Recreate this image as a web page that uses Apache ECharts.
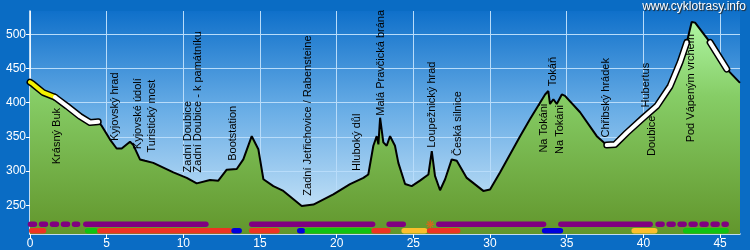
<!DOCTYPE html>
<html><head><meta charset="utf-8">
<script src="https://cdn.jsdelivr.net/npm/echarts@6/dist/echarts.min.js"></script>
<style>html,body{margin:0;padding:0;background:#0a6cc4;}#c{width:750px;height:250px;}</style>
</head><body><div id="c"></div>
<script>
// elevation profile (km, m)
const profileKm = [0, 0.2, 0.85, 1.63, 2.41, 3.26, 3.91, 4.45, 4.68, 5.22, 5.65, 5.98, 6.52, 6.74, 7.17, 7.5, 8.04, 9.35, 10.22, 10.87, 11.74, 12.28, 12.83, 13.48, 13.91, 14.46, 14.89, 15.22, 15.87, 16.52, 17.72, 18.48, 19.78, 20.87, 21.74, 22.06, 22.39, 22.61, 22.72, 22.83, 23.04, 23.26, 23.48, 23.8, 24.02, 24.46, 24.89, 25.43, 25.98, 26.2, 26.41, 26.74, 27.07, 27.5, 27.83, 28.48, 29.56, 30.0, 30.65, 31.96, 32.61, 33.59, 33.8, 33.91, 34.13, 34.35, 34.68, 34.89, 35.87, 36.96, 37.61, 38.15, 38.92, 40.0, 40.87, 41.74, 42.39, 42.83, 43.15, 43.37, 44.35, 45.44, 46.3];
const profileElev = [430, 427, 415, 408, 395, 380, 371, 372, 366, 346, 333, 333, 343, 338, 317, 315, 312, 298, 290, 282, 287, 286, 302, 303, 317, 351, 332, 288, 278, 271, 249, 251, 266, 281, 290, 295, 337, 351, 339, 378, 342, 337, 351, 337, 312, 281, 278, 286, 295, 329, 293, 272, 288, 317, 315, 290, 271, 273, 298, 351, 376, 412, 417, 398, 405, 398, 412, 410, 386, 351, 338, 339, 356, 378, 395, 424, 459, 488, 518, 517, 488, 449, 429];

// highlighted stretches of the profile (km ranges)
const highlightYellow = [[0, 1.63]];
const highlightWhite = [[1.63, 4.45], [37.61, 42.83], [44.35, 45.44]];

// waypoints
const waypointNames = ['Krásný Buk', 'Kyjovský hrad', 'Kyjovské údolí', 'Turistický most', 'Zadní Doubice', 'Zadní Doubice - k památníku', 'Bootstation', 'Zadní Jetřichovice / Rabensteine', 'Hluboký důl', 'Malá Pravčická brána', 'Loupežnický hrad', 'Česká silnice', 'Na Tokáni', 'Tokáň', 'Na Tokáni', 'Chřibský hrádek', 'Hubertus', 'Doubice', 'Pod Vápeným vrchem'];
const waypointKm = [1.74, 5.54, 7.06, 7.94, 10.32, 10.98, 13.26, 18.15, 21.35, 22.87, 26.2, 27.93, 33.52, 34.13, 34.57, 37.57, 40.17, 40.55, 43.09];
const waypointLabelElev = [310, 344, 332, 327, 298, 298, 315, 264, 300, 381, 334, 322, 327, 424, 325, 349, 393, 322, 342];

// route type bars: [startKm, endKm, type]
const row1Segments = [[0.03, 3.1, 'trailDotted'], [3.64, 11.47, 'trail'], [14.46, 22.34, 'trail'], [23.42, 24.34, 'trail'], [26.66, 33.49, 'trail'], [34.62, 40.44, 'trail'], [40.96, 45.4, 'trailDotted']];
const row2Segments = [[0.11, 0.88, 'road'], [3.76, 4.24, 'path'], [4.56, 12.99, 'road'], [13.31, 13.64, 'ferry'], [14.46, 16.1, 'road'], [17.59, 17.77, 'ferry'], [18.09, 22.12, 'path'], [22.44, 23.34, 'road'], [24.4, 25.74, 'gravel'], [26.06, 27.89, 'road'], [33.56, 34.59, 'ferry'], [39.4, 40.74, 'gravel'], [42.76, 45.39, 'path']];
const markerKm = [26.1];

const xTicks = [0, 5, 10, 15, 20, 25, 30, 35, 40, 45];
const yTicks = [250, 300, 350, 400, 450, 500];

const typeColor = {trail: '#800080', trailDotted: '#800080', road: '#ee3322', path: '#11c211', ferry: '#0000dd', gravel: '#fbbf2c'};
const ROW1 = 222.2, ROW2 = 212.6;

const profile = profileKm.map((k, i) => [k, profileElev[i]]);
function pick(r) { return profile.filter(p => p[0] >= r[0] - 1e-9 && p[0] <= r[1] + 1e-9); }

const series = [];
series.push({
  type: 'line', data: profile, symbol: 'none', z: 2,
  lineStyle: {color: '#000', width: 2},
  areaStyle: {origin: 'start', opacity: 1, color: new echarts.graphic.LinearGradient(0, 0, 0, 1, [
    {offset: 0, color: '#aef5a2'}, {offset: 0.35, color: '#86cd66'}, {offset: 1, color: '#62962c'}])},
  silent: true, animation: false
});
highlightYellow.concat(highlightWhite).forEach(r => {
  series.push({type: 'line', data: pick(r), symbol: 'none', z: 3, lineStyle: {color: '#000', width: 7, cap: 'round', join: 'round'}, animation: false, silent: true});
});
highlightYellow.forEach(r => series.push({type: 'line', data: pick(r), symbol: 'none', z: 4, lineStyle: {color: '#f4f000', width: 4, cap: 'round', join: 'round'}, animation: false, silent: true}));
highlightWhite.forEach(r => series.push({type: 'line', data: pick(r), symbol: 'none', z: 4, lineStyle: {color: '#ffffff', width: 4, cap: 'round', join: 'round'}, animation: false, silent: true}));

function segSeries(segs, rowElev) {
  return {
    type: 'custom', z: 5, animation: false, silent: true,
    data: segs.map(s => [s[0], s[1], s[2]]),
    dimensions: ['a', 'b', {name: 't', type: 'ordinal'}],
    encode: {x: [0, 1]},
    renderItem: function (params, api) {
      const seg = segs[params.dataIndex];
      const p1 = api.coord([seg[0], rowElev]);
      const p2 = api.coord([seg[1], rowElev]);
      return {type: 'line', shape: {x1: p1[0], y1: p1[1], x2: p2[0], y2: p2[1]},
        style: {stroke: typeColor[seg[2]], lineWidth: 5.5, lineCap: 'round', lineDash: seg[2] === 'trailDotted' ? [4, 7] : null}};
    }
  };
}
series.push(segSeries(row1Segments, ROW1));
series.push(segSeries(row2Segments, ROW2));
series.push({
  type: 'custom', z: 6, animation: false, silent: true,
  data: markerKm.map(k => [k]), encode: {x: 0},
  renderItem: function (params, api) {
    const c = api.coord([api.value(0), ROW1]);
    const ch = [];
    for (let i = 0; i < 4; i++) {
      const a = i * Math.PI / 4;
      ch.push({type: 'line', shape: {x1: c[0] - 4 * Math.cos(a), y1: c[1] - 4 * Math.sin(a), x2: c[0] + 4 * Math.cos(a), y2: c[1] + 4 * Math.sin(a)}, style: {stroke: '#d2691e', lineWidth: 1.3}});
    }
    return {type: 'group', children: ch};
  }
});
series.push({
  type: 'custom', z: 10, animation: false, silent: true,
  data: waypointKm.map((k, i) => [k, waypointLabelElev[i]]),
  renderItem: function (params, api) {
    const p = api.coord([api.value(0), api.value(1)]);
    return {type: 'text', x: p[0], y: p[1], rotation: Math.PI / 2,
      style: {text: waypointNames[params.dataIndex], fill: '#000', font: '11px "Liberation Sans", Arial, sans-serif', align: 'left', verticalAlign: 'middle'}};
  }
});

const chart = echarts.init(document.getElementById('c'), null, {renderer: 'canvas'});
chart.setOption({
  backgroundColor: '#0a6cc4',
  animation: false,
  grid: {left: 30, right: 10, top: 11, bottom: 15.5, show: true, borderWidth: 0,
    backgroundColor: new echarts.graphic.LinearGradient(0, 0, 0, 1, [
      {offset: 0, color: '#0f70ca'}, {offset: 0.45, color: '#6aaee6'}, {offset: 1, color: '#d6ecfa'}])},
  xAxis: {type: 'value', min: 0, max: 46.3,
    axisLine: {show: true, lineStyle: {color: '#fff', width: 1.5}},
    axisTick: {show: true, length: 4, lineStyle: {color: '#fff'}, customValues: xTicks},
    axisLabel: {color: '#fff', fontSize: 12, fontFamily: '"Liberation Sans", Arial, sans-serif', margin: 4, customValues: xTicks},
    splitLine: {show: true, lineStyle: {color: '#b8dcfa', width: 1}}},
  yAxis: {type: 'value', min: 208, max: 534,
    axisLine: {show: true, onZero: false, lineStyle: {color: '#fff', width: 1.5}},
    axisTick: {show: true, length: 4, lineStyle: {color: '#fff'}, customValues: yTicks},
    axisLabel: {color: '#fff', fontSize: 12, fontFamily: '"Liberation Sans", Arial, sans-serif', margin: 4, customValues: yTicks},
    splitLine: {show: true, lineStyle: {color: '#b8dcfa', width: 1}}},
  graphic: [{type: 'text', right: 4, top: 1, z: 100,
    style: {text: 'www.cyklotrasy.info', fill: '#fff', font: '12px "Liberation Sans", Arial, sans-serif', textShadowColor: '#222', textShadowOffsetX: 1, textShadowOffsetY: 1, textShadowBlur: 1}}],
  series: series
});
</script>
</body></html>
